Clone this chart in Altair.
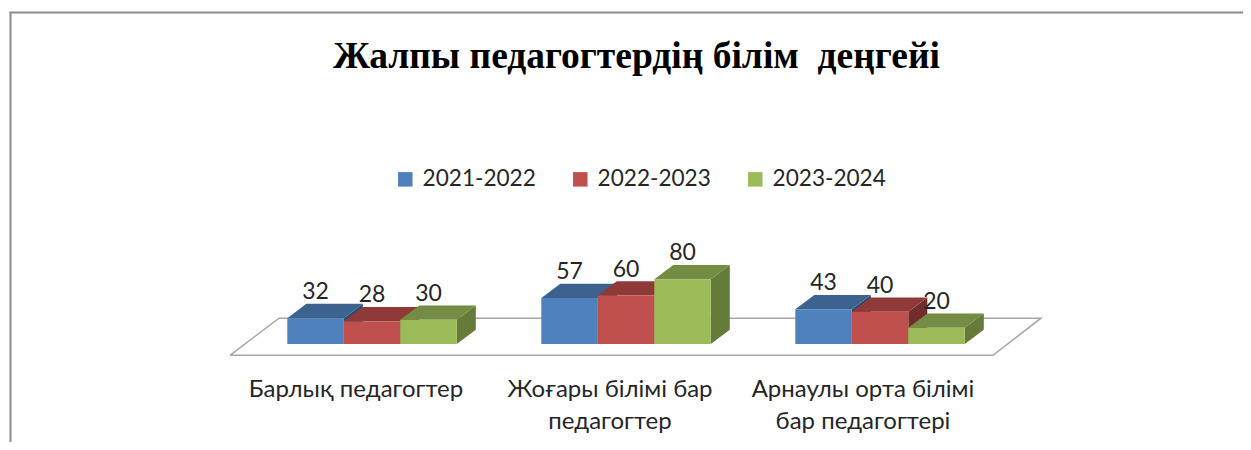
import altair as alt
import pandas as pd

categories = ["Барлық педагогтер", "Жоғары білімі бар\nпедагогтер", "Арнаулы орта білімі\nбар педагогтері"]
series = ["2021-2022", "2022-2023", "2023-2024"]
values = {
    "2021-2022": [32, 57, 43],
    "2022-2023": [28, 60, 40],
    "2023-2024": [30, 80, 20],
}
front_colors = ["#4f81bd", "#c0504d", "#9bbb59"]
top_colors = ["#3c6290", "#8f3a38", "#748c43"]
side_colors = ["#2f4d71", "#702d2c", "#667b3a"]

TITLE = "Жалпы педагогтердің білім\u00a0 деңгейі"
FONT = "Lato"
W, H = 1235, 434
PXU = 0.808           # pixels per value unit
BASE = 336.0          # plot-y of the value 0
GROUP_LEFT, GROUP_STEP, BAR_W = 287.3, 254.0, 56.5
DX, DEPTH = 19.0, 14.3 / PXU

xs = alt.Scale(domain=[8, 8 + W], range=[0, W], nice=False, zero=False)
ys = alt.Scale(domain=[(BASE - H) / PXU, BASE / PXU], range=[H, 0], nice=False, zero=False)
X = lambda f: alt.X(f, type="quantitative", scale=xs, axis=None)
Y = lambda f: alt.Y(f, type="quantitative", scale=ys, axis=None)

bars = []
for j, s in enumerate(series):
    for i, c in enumerate(categories):
        x0 = GROUP_LEFT + i * GROUP_STEP + j * BAR_W
        bars.append(dict(series=s, sidx=j, cat=c, v=values[s][i], x0=x0, x1=x0 + BAR_W, base=0,
                         xc=x0 + BAR_W / 2))
bars = pd.DataFrame(bars)

side_rows, top_rows = [], []
for r in bars.itertuples():
    side_rows += [dict(series=r.series, cat=r.cat, x=r.x1, lo=0, hi=r.v),
                  dict(series=r.series, cat=r.cat, x=r.x1 + DX, lo=DEPTH, hi=r.v + DEPTH)]
    top_rows += [dict(series=r.series, cat=r.cat, x=r.x0, lo=r.v, hi=r.v),
                 dict(series=r.series, cat=r.cat, x=r.x0 + DX, lo=r.v, hi=r.v + DEPTH),
                 dict(series=r.series, cat=r.cat, x=r.x1, lo=r.v, hi=r.v + DEPTH),
                 dict(series=r.series, cat=r.cat, x=r.x1 + DX, lo=r.v + DEPTH, hi=r.v + DEPTH)]
side = pd.DataFrame(side_rows)
top = pd.DataFrame(top_rows)

floor = pd.DataFrame({
    "o": [0, 1, 2, 3, 4],
    "x": [230, 279, 1041, 993, 230],
    "y": [-14, 32, 32, -14, -14],
})
floor_layer = alt.Chart(floor).mark_line(color="#a6a6a6", strokeWidth=1.5, clip=False).encode(
    x=X("x"), y=Y("y"), order="o:Q")

frame_color = "#8c8c8c"
frame_l = alt.Chart(pd.DataFrame({"a": [0]})).mark_rule(color=frame_color, strokeWidth=2).encode(
    x=alt.value(2.5), y=alt.value(4.0), y2=alt.value(H))
frame_t = alt.Chart(pd.DataFrame({"a": [0]})).mark_rule(color=frame_color, strokeWidth=2).encode(
    x=alt.value(1.5), x2=alt.value(W), y=alt.value(4.5))

layers = [frame_l, frame_t, floor_layer]
color_enc = alt.Color(
    "series:N",
    scale=alt.Scale(domain=series, range=front_colors),
    legend=alt.Legend(
        title=None, orient="none", direction="horizontal", columns=3,
        legendX=386, legendY=160, symbolType="square", symbolSize=210,
        symbolStrokeWidth=0, labelFont=FONT, labelFontSize=22.6, labelColor="#262626",
        labelOffset=6, columnPadding=33, symbolOpacity=1, labelLimit=200,
    ),
)
for j, s in enumerate(series):
    layers.append(alt.Chart(side[side.series == s]).mark_area(color=side_colors[j], orient="vertical").encode(
        x=X("x"), y=Y("lo"), y2="hi", detail="cat:N"))
    layers.append(alt.Chart(top[top.series == s]).mark_area(color=top_colors[j], orient="vertical").encode(
        x=X("x"), y=Y("lo"), y2="hi", detail="cat:N"))
    layers.append(alt.Chart(bars[bars.series == s]).mark_rect().encode(
        x=X("x0"), x2="x1", y=Y("base"), y2="v", color=color_enc))

labels = alt.Chart(bars).mark_text(
    font=FONT, fontSize=23, color="#262626", baseline="alphabetic", align="center", dy=-19
).encode(x=X("xc"), y=Y("v"), text="v:Q")
layers.append(labels)

cat_df = pd.DataFrame({
    "cat": categories,
    "x": [356.0, 610.0, 863.0],
    "y": [-66.0] * 3,
})
cat_labels = alt.Chart(cat_df).mark_text(
    font=FONT, fontSize=24, color="#262626", baseline="alphabetic", align="center",
    lineBreak="\n", lineHeight=32
).encode(x=X("x"), y=Y("y"), text="cat:N")
layers.append(cat_labels)

chart = alt.layer(*layers).properties(
    width=W, height=H, padding=0,
    autosize=alt.AutoSizeParams(type="none"),
    title=alt.TitleParams(
        TITLE, anchor="start", frame="group", dx=325, dy=67,
        font="Liberation Serif", fontSize=37.5, fontWeight="bold", color="#000000", offset=0,
    ),
).configure_view(stroke=None)

chart.save("out.html", embed_options={"renderer": "svg", "actions": False})
